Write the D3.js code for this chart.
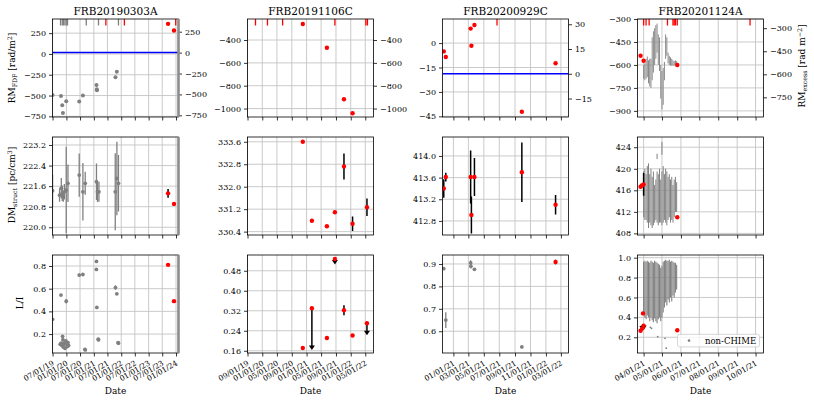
<!DOCTYPE html>
<html><head><meta charset="utf-8">
<script src="https://cdn.jsdelivr.net/npm/d3@7"></script>
<style>body{margin:0;background:#fff}svg{display:block}text{font-family:"DejaVu Serif",serif}</style>
</head><body><svg id="c" width="814" height="403"></svg>
<script>
// ---------------- DATA ----------------
const titles = ["FRB20190303A","FRB20191106C","FRB20200929C","FRB20201124A"];
const xDomains = [["2019-06-30","2024-02-03"],["2019-09-01","2022-07-08"],["2020-11-19","2022-03-31"],["2021-03-22","2021-10-14"]];
const xTicks = [
  ["2019-07-01","2020-01-01","2020-07-01","2021-01-01","2021-07-01","2022-01-01","2022-07-01","2023-01-01","2023-07-01","2024-01-01"],
  ["2019-09-01","2020-01-01","2020-05-01","2020-09-01","2021-01-01","2021-05-01","2021-09-01","2022-01-01","2022-05-01"],
  ["2021-01-01","2021-03-01","2021-05-01","2021-07-01","2021-09-01","2021-11-01","2022-01-01","2022-03-01"],
  ["2021-04-01","2021-05-01","2021-06-01","2021-07-01","2021-08-01","2021-09-01","2021-10-01"]
];
const rmDomains = [[-758,420],[-1074,-216],[-45.4,14.8],[-940,-300]];
const rmTicks = [[250,0,-250,-500,-750],[-400,-600,-800,-1000],[0,-15,-30,-45],[-300,-450,-600,-750,-900]];
const rmRightDomains = [[-770,402],[-1074,-216],[-26.2,33.2],[-878,-240]];
const rmRightTicks = [[250,0,-250,-500,-750],[-400,-600,-800,-1000],[30,15,0,-15],[-300,-450,-600,-750]];
const dmDomains = [[219.7,223.51],[330.28,333.77],[412.54,414.35],[407.7,425.9]];
const dmTicks = [[220.0,220.8,221.6,222.4,223.2],[330.4,331.2,332.0,332.8,333.6],[412.8,413.2,413.6,414.0],[408,412,416,420,424]];
const dmFormats = [".1f",".1f",".1f","d"];
const liDomains = [[0.033,0.897],[0.151,0.543],[0.503,0.94],[0.042,1.027]];
const liTicks = [[0.2,0.4,0.6,0.8],[0.16,0.24,0.32,0.40,0.48],[0.6,0.7,0.8,0.9],[0.2,0.4,0.6,0.8,1.0]];
const liFormats = [".1f",".2f",".1f",".1f"];

// FRB20190303A
const c1RugGray = ["2019-10-15","2019-11-07","2019-11-24","2019-12-13","2019-12-30","2020-01-16","2020-09-22","2021-03-04","2021-11-25"];
const c1RugRed = ["2021-06-10","2022-02-12","2023-12-28"];
const c1RmGray = [["2019-07-01",-495],["2019-10-21",-507],["2019-11-07",-616],["2019-11-16",-709],["2019-12-30",-568],["2020-06-20",-571],["2020-08-08",-499],["2021-02-05",-374],["2021-02-10",-423],["2021-02-11",-435],["2021-10-16",-281],["2021-11-03",-214]];
const c1RmRed = [["2023-09-17",362],["2023-12-05",281]];
const c1DmGray = [["2019-07-01",221.42,0.62],["2019-10-02",221.25,0.26],["2019-10-25",221.52,0.4],["2019-11-07",221.32,0.3],["2019-11-21",221.19,0.2],["2019-12-05",221.38,0.3],["2019-12-30",221.45,1.68],["2020-01-22",221.71,0.73],["2020-06-20",222.03,0.84],["2020-08-08",221.38,1.12],["2020-09-08",221.71,0.45],["2021-02-05",221.77,0.71],["2021-02-19",221.38,0.4],["2021-03-10",221.38,0.39],["2021-10-13",221.38,1.5],["2021-11-04",221.9,1.43],["2021-11-25",221.71,1.1]];
const c1DmRed = [["2023-09-17",221.32,0.17],["2023-12-05",220.91,0.05]];
const c1LiGray = [["2019-07-01",0.33,0],["2019-10-21",0.544,0],["2019-10-11",0.11,0],["2019-10-25",0.12,0],["2019-11-03",0.10,0],["2019-11-11",0.18,0.01],["2019-11-16",0.15,0],["2019-11-24",0.095,0],["2019-12-04",0.12,0],["2019-12-13",0.075,0],["2019-12-26",0.14,0],["2019-12-30",0.49,0.02],["2020-01-08",0.11,0],["2020-01-22",0.125,0],["2020-01-30",0.10,0],["2019-11-20",0.085,0],["2019-12-18",0.13,0],["2020-01-14",0.09,0],["2020-06-20",0.72,0.015],["2020-08-08",0.725,0],["2020-09-09",0.06,0.01],["2020-09-04",0.065,0],["2021-02-05",0.84,0],["2021-02-04",0.77,0.01],["2021-02-10",0.435,0],["2021-03-04",0.15,0.015],["2021-02-28",0.155,0],["2021-10-16",0.61,0.02],["2021-11-03",0.555,0],["2021-11-25",0.12,0.015],["2021-11-20",0.125,0]];
const c1LiRed = [["2023-09-17",0.81],["2023-12-05",0.49]];

// FRB20191106C
const c2RugRed = ["2019-11-06","2020-02-13","2020-06-17","2021-08-23","2022-05-06","2022-05-19"];
const c2RmRed = [["2020-12-01",-260],["2021-06-18",-468],["2021-11-06",-918],["2022-01-16",-1041]];
const c2DmRed = [["2020-12-01",333.6,0],["2021-02-14",330.79,0],["2021-06-18",330.59,0],["2021-08-23",331.09,0],["2021-11-06",332.72,0.46],["2022-01-16",330.68,0.26],["2022-05-15",331.27,0.31]];
const c2LiRed = [["2020-12-01",0.171,0],["2021-02-14",0.33,0],["2021-06-18",0.211,0],["2021-08-23",0.527,0],["2021-11-06",0.322,0.02],["2022-01-16",0.221,0],["2022-05-15",0.27,0]];
const c2LiLimits = [["2021-02-14",0.33,0.163],["2021-08-23",0.527,0.505],["2022-05-15",0.27,0.222]];

// FRB20200929C
const c3RugRed = ["2021-06-22"];
const c3RmRed = [["2020-11-24",-5.1],["2020-12-02",-8.5],["2021-03-10",8.9],["2021-03-25",11.1],["2021-03-13",-1.6],["2021-09-28",-42.2],["2022-02-08",-12.4]];
const c3DmRed = [["2020-11-24",413.40,0.17],["2020-12-02",413.61,0.08],["2021-03-10",413.61,0.49],["2021-03-13",412.91,0.34],["2021-03-25",413.61,0.35],["2021-09-28",413.70,0.55],["2022-02-08",413.10,0.18]];
const c3LiGray = [["2020-11-24",0.879,0],["2020-12-02",0.65,0.035],["2021-03-10",0.905,0.012],["2021-03-11",0.89,0.01],["2021-03-25",0.876,0],["2021-09-28",0.53,0]];
const c3LiRed = [["2022-02-08",0.909,0.01]];

// FRB20201124A
const c4RugRed = ["2021-04-01","2021-04-05","2021-04-10","2021-05-10","2021-05-19","2021-05-21","2021-05-23","2021-05-26","2021-09-22"];
const c4RmRed = [["2021-03-27",-540],["2021-04-01",-573],["2021-05-26",-600]];
const c4RmGrayBands = [["2021-04-01",-600,-690],["2021-04-03",-590,-700],["2021-04-05",-560,-690],["2021-04-07",-545,-680],["2021-04-09",-570,-720],["2021-04-11",-560,-740],["2021-04-13",-560,-750],["2021-04-15",-420,-700],["2021-04-17",-380,-650],["2021-04-19",-360,-600],["2021-04-21",-340,-560],["2021-04-23",-330,-520],["2021-04-25",-400,-600],["2021-04-27",-420,-640],["2021-04-29",-600,-820],["2021-05-01",-640,-890],["2021-05-03",-620,-860],["2021-05-05",-580,-700],["2021-05-07",-400,-560],["2021-05-09",-420,-540],["2021-05-11",-520,-590],["2021-05-13",-540,-600],["2021-05-15",-550,-605],["2021-05-17",-560,-605],["2021-05-19",-570,-605],["2021-05-21",-575,-605],["2021-05-23",-570,-600],["2021-05-25",-575,-600]];
const c4DmRed = [["2021-03-27",416.65,0],["2021-03-29",416.9,0],["2021-04-01",417.1,2.1],["2021-05-26",411.0,0]];
const c4DmGrayBands = [["2021-04-01",411,419.5],["2021-04-03",410.5,420],["2021-04-05",410.5,419],["2021-04-07",410,420.5],["2021-04-09",409,421],["2021-04-11",410,419],["2021-04-13",409.5,420],["2021-04-15",409,418.5],["2021-04-17",409.5,419.5],["2021-04-19",410,417],["2021-04-21",410.5,418],["2021-04-23",410,419.5],["2021-04-25",409.5,419],["2021-04-27",410,420],["2021-04-29",410,418],["2021-05-01",409.5,419.5],["2021-05-03",410,420.5],["2021-05-05",410.5,419],["2021-05-07",410,420],["2021-05-09",409.5,419.5],["2021-05-11",410.5,418.5],["2021-05-13",411,419],["2021-05-15",410,418],["2021-05-17",410.5,418.5],["2021-05-19",410,417],["2021-05-21",411,418],["2021-05-23",412,418.5],["2021-05-25",412,417.5],["2021-04-23",421.8,422.8],["2021-05-01",422.6,425]];
const c4LiRed = [["2021-03-27",0.266],["2021-03-31",0.44],["2021-03-30",0.29],["2021-04-01",0.317],["2021-05-26",0.27]];
const c4LiLimits = [["2021-04-01",0.317,0.272],["2021-03-30",0.29,0.268]];
const c4LiGrayBands = [["2021-04-01",0.45,0.96],["2021-04-03",0.40,0.97],["2021-04-05",0.38,0.96],["2021-04-07",0.42,0.97],["2021-04-09",0.40,0.96],["2021-04-11",0.36,0.95],["2021-04-13",0.40,0.97],["2021-04-15",0.37,0.96],["2021-04-17",0.35,0.95],["2021-04-19",0.39,0.97],["2021-04-21",0.36,0.96],["2021-04-23",0.34,0.95],["2021-04-25",0.38,0.94],["2021-04-27",0.40,0.93],["2021-04-29",0.36,0.90],["2021-05-01",0.40,0.92],["2021-05-03",0.45,0.96],["2021-05-05",0.50,0.97],["2021-05-07",0.55,0.98],["2021-05-09",0.52,0.97],["2021-05-11",0.58,0.97],["2021-05-13",0.55,0.98],["2021-05-15",0.60,0.96],["2021-05-17",0.56,0.97],["2021-05-19",0.62,0.96],["2021-05-21",0.60,0.95],["2021-05-23",0.65,0.95],["2021-05-25",0.68,0.93]];
const c4LiGrayPts = [["2021-04-12",0.30],["2021-04-14",0.29],["2021-04-24",0.206],["2021-05-06",0.19],["2021-05-08",0.09]];

// ---------------- LAYOUT ----------------
const F = "DejaVu Serif";
const colLeft = [52.5,247.5,442.5,637.5], colW = 126;
const rowTop = [19,137,255], rowH = 98;
const parse = d3.timeParse("%Y-%m-%d");
const svg = d3.select("#c");
const RED = "#ff0000", GRAY = "#808080";

const xs = xDomains.map((d,i)=>d3.scaleTime().domain(d.map(parse)).range([colLeft[i], colLeft[i]+colW]));
function ys(ri, dom){ return d3.scaleLinear().domain(dom).range([rowTop[ri]+rowH, rowTop[ri]]); }

let clipId = 0;
function makePanel(ci, ri, y, yT, yFmt){
  const x = xs[ci];
  const g = svg.append("g");
  const x0 = colLeft[ci], y0 = rowTop[ri];
  g.append("g").selectAll("line").data(xTicks[ci]).join("line")
    .attr("x1", d=>x(parse(d))).attr("x2", d=>x(parse(d))).attr("y1", y0).attr("y2", y0+rowH)
    .attr("stroke","#c4c4c4").attr("stroke-width",0.9);
  g.append("g").selectAll("line").data(yT).join("line")
    .attr("y1", d=>y(d)).attr("y2", d=>y(d)).attr("x1", x0).attr("x2", x0+colW)
    .attr("stroke","#c4c4c4").attr("stroke-width",0.9);
  const id = "clip"+(clipId++);
  svg.append("clipPath").attr("id", id).append("rect").attr("x",x0).attr("y",y0).attr("width",colW).attr("height",rowH);
  const data = g.append("g").attr("clip-path", `url(#${id})`);
  const la = g.append("g").attr("transform",`translate(${x0},0)`)
    .call(d3.axisLeft(y).tickValues(yT).tickFormat(d3.format(yFmt)).tickSize(3.5).tickPadding(3));
  styleAxis(la);
  const ba = g.append("g").attr("transform",`translate(0,${y0+rowH})`)
    .call(d3.axisBottom(x).tickValues(xTicks[ci].map(parse)).tickFormat(ri===2 ? d3.timeFormat("%m/%d/%y") : "").tickSize(3.5));
  styleAxis(ba);
  ba.attr("font-size",7.5);
  ba.selectAll("text").attr("x",0).attr("y",0).attr("dy",0).attr("text-anchor","end")
    .attr("transform","translate(1.5,11.5) rotate(-30)");
  return {g, data, x, y, x0, y0};
}
function styleAxis(sel){
  sel.attr("font-family",F).attr("font-size",8);
  sel.select(".domain").remove();
  sel.selectAll(".tick line").attr("stroke","#000").attr("stroke-width",0.8);
  sel.selectAll(".tick text").attr("fill","#000");
}
function spine(p){
  p.g.append("rect").attr("x",p.x0).attr("y",p.y0).attr("width",colW).attr("height",rowH)
    .attr("fill","none").attr("stroke","#000").attr("stroke-width",0.8);
}
function points(p, arr, color, r){
  p.data.append("g").selectAll("circle").data(arr).join("circle")
    .attr("cx", d=>p.x(parse(d[0]))).attr("cy", d=>p.y(d[1])).attr("r", r).attr("fill", color);
}
function errs(p, arr, color, w){
  p.data.append("g").selectAll("line").data(arr.filter(d=>d[2]>0)).join("line")
    .attr("x1", d=>p.x(parse(d[0]))).attr("x2", d=>p.x(parse(d[0])))
    .attr("y1", d=>p.y(d[1]-d[2])).attr("y2", d=>p.y(d[1]+d[2]))
    .attr("stroke", color).attr("stroke-width", w);
}
function bands(p, arr, color, w){
  p.data.append("g").selectAll("line").data(arr).join("line")
    .attr("x1", d=>p.x(parse(d[0]))).attr("x2", d=>p.x(parse(d[0])))
    .attr("y1", d=>p.y(d[1])).attr("y2", d=>p.y(d[2]))
    .attr("stroke", color).attr("stroke-width", w);
}
function limits(p, arr){
  const g = p.data.append("g");
  arr.forEach(d=>{
    const xx = p.x(parse(d[0])), ya = p.y(d[1]), yb = p.y(d[2]);
    g.append("line").attr("x1",xx).attr("x2",xx).attr("y1",ya).attr("y2",yb-3).attr("stroke","#000").attr("stroke-width",1.5);
    g.append("path").attr("d",`M${xx-3},${yb-4.5}L${xx+3},${yb-4.5}L${xx},${yb}Z`).attr("fill","#000");
  });
}
function rug(p, dates, color){
  p.data.append("g").selectAll("line").data(dates).join("line")
    .attr("x1", d=>p.x(parse(d))).attr("x2", d=>p.x(parse(d)))
    .attr("y1", p.y0).attr("y2", p.y0+6.5).attr("stroke", color).attr("stroke-width",1.3);
}
function rightAxis(p, ci){
  const yr = ys(0, rmRightDomains[ci]);
  const ra = p.g.append("g").attr("transform",`translate(${p.x0+colW},0)`)
    .call(d3.axisRight(yr).tickValues(rmRightTicks[ci]).tickFormat(d3.format("d")).tickSize(3.5).tickPadding(3));
  styleAxis(ra);
  return yr;
}

// ---------------- DRAW ----------------
const rmData = [
  {gray:c1RmGray, red:c1RmRed, rug:[[c1RugGray,GRAY],[c1RugRed,RED]], blue:true},
  {red:c2RmRed, rug:[[c2RugRed,RED]]},
  {red:c3RmRed, rug:[[c3RugRed,RED]], blue:true},
  {red:c4RmRed, rug:[[c4RugRed,RED]], bands:c4RmGrayBands}
];
const dmData = [
  {gray:c1DmGray, red:c1DmRed},
  {red:c2DmRed},
  {red:c3DmRed},
  {red:c4DmRed, bands:c4DmGrayBands}
];
const liData = [
  {gray:c1LiGray, red:c1LiRed},
  {red:c2LiRed, lim:c2LiLimits},
  {gray:c3LiGray, red:c3LiRed},
  {red:c4LiRed, lim:c4LiLimits, bands:c4LiGrayBands, grayPts:c4LiGrayPts}
];

for (let ci=0; ci<4; ci++){
  const y1 = ys(0, rmDomains[ci]);
  const p1 = makePanel(ci, 0, y1, rmTicks[ci], "d");
  const yr = rightAxis(p1, ci);
  const r = rmData[ci];
  if (r.bands) bands(p1, r.bands, "#8a8a8a", 1.0);
  if (r.gray) points(p1, r.gray, GRAY, 2);
  if (r.blue) p1.data.append("line").attr("x1",p1.x0).attr("x2",p1.x0+colW).attr("y1",yr(0)).attr("y2",yr(0)).attr("stroke","#0000ff").attr("stroke-width",1.5);
  r.rug.forEach(([d,c])=>rug(p1, d, c));
  points(p1, r.red, RED, 2.2);

  const y2 = ys(1, dmDomains[ci]);
  const p2 = makePanel(ci, 1, y2, dmTicks[ci], dmFormats[ci]);
  const dd = dmData[ci];
  if (dd.bands) bands(p2, dd.bands, GRAY, 1.0);
  if (dd.gray){ errs(p2, dd.gray, GRAY, 1.3); points(p2, dd.gray, GRAY, 1.9); }
  errs(p2, dd.red, "#000", 1.5);
  points(p2, dd.red, RED, 2.2);

  const y3 = ys(2, liDomains[ci]);
  const p3 = makePanel(ci, 2, y3, liTicks[ci], liFormats[ci]);
  const ld = liData[ci];
  if (ld.bands) bands(p3, ld.bands, GRAY, 1.1);
  if (ld.grayPts) points(p3, ld.grayPts, GRAY, 0.9);
  if (ld.gray){ errs(p3, ld.gray, GRAY, 1.3); points(p3, ld.gray, GRAY, 1.9); }
  if (ld.lim) limits(p3, ld.lim);
  if (ld.red[0].length>2) errs(p3, ld.red, "#000", 1.5);
  points(p3, ld.red, RED, 2.2);

  [p1,p2,p3].forEach(p=>{
    spine(p);
    if (ci===0) p.g.append("line").attr("x1",p.x0+colW).attr("x2",p.x0+colW).attr("y1",p.y0).attr("y2",p.y0+rowH).attr("stroke","#8c8c8c").attr("stroke-width",2.6);
  });

  svg.append("text").attr("x",colLeft[ci]+colW/2).attr("y",15).attr("text-anchor","middle").attr("font-size",10.5).text(titles[ci]);
  svg.append("text").attr("x",colLeft[ci]+colW/2).attr("y",394).attr("text-anchor","middle").attr("font-size",9).text("Date");
}

function label(x, y, parts, rot){
  const t = svg.append("text").attr("transform",`translate(${x},${y}) rotate(${rot})`).attr("text-anchor","middle").attr("font-size",9);
  parts.forEach(([s,k])=>{
    const ts = t.append("tspan").text(s);
    if (k==="sub") ts.attr("font-size",6.3).attr("baseline-shift","-2.2");
    if (k==="sup") ts.attr("font-size",6.3).attr("baseline-shift","3.5");
  });
}
label(15, 68, [["RM"],["FDF","sub"],[" [rad/m"],["2","sup"],["]"]], -90);
label(15, 185, [["DM"],["struct","sub"],[" [pc/cm"],["3","sup"],["]"]], -90);
label(23, 303, [["L/I"]], -90);
label(805, 66, [["RM"],["excess","sub"],[" [rad m"],["−2","sup"],["]"]], -90);

const lg = svg.append("g");
lg.append("rect").attr("x",677.5).attr("y",334.3).attr("width",82).attr("height",12.6).attr("rx",2)
  .attr("fill","#fff").attr("fill-opacity",0.8).attr("stroke","#cccccc").attr("stroke-width",0.8);
lg.append("circle").attr("cx",689).attr("cy",340.6).attr("r",1.3).attr("fill",GRAY);
lg.append("text").attr("x",705).attr("y",343.7).attr("font-size",8.5).text("non-CHIME");
</script></body></html>
